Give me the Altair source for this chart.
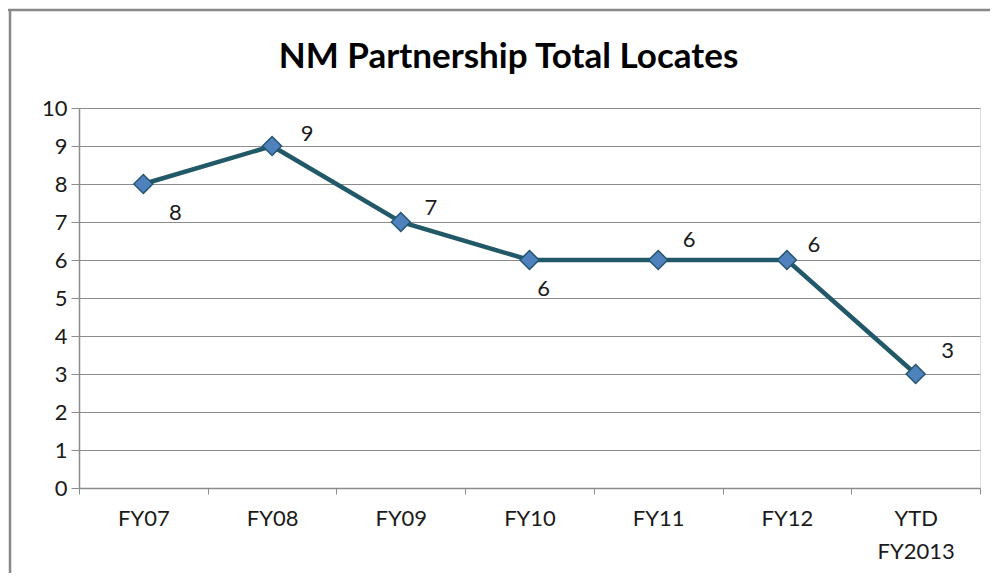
import altair as alt
import pandas as pd

periods = ["FY07", "FY08", "FY09", "FY10", "FY11", "FY12", "YTD FY2013"]
locates = [8, 9, 7, 6, 6, 6, 3]

df = pd.DataFrame({"period": periods, "locates": locates})

FONT = "Lato"
GRID = "#8c8c8c"
FS = 22

x_enc = alt.X(
    "period:N",
    sort=periods,
    scale=alt.Scale(type="band", paddingInner=0, paddingOuter=0),
    bandPosition=0.5,
    axis=alt.Axis(
        title=None, labelAngle=0, tickBand="extent", tickSize=6,
        tickColor=GRID, domainColor=GRID, domainWidth=1.5, grid=False,
        labelFont=FONT, labelFontSize=FS, labelColor="#1a1a1a",
        labelPadding=14, labelLineHeight=33, labelBaseline="top",
        labelExpr="split(datum.label, ' ')",
    ),
)
y_enc = alt.Y(
    "locates:Q",
    scale=alt.Scale(domain=[0, 10], nice=False),
    axis=alt.Axis(
        title=None, values=list(range(11)), grid=True, gridColor=GRID,
        gridWidth=1, tickSize=8, tickColor=GRID, domainColor=GRID,
        domainWidth=1.5, labelFont=FONT, labelFontSize=FS,
        labelColor="#1a1a1a", labelPadding=4,
    ),
)

base = alt.Chart(df).encode(x=x_enc, y=y_enc)

line = base.mark_line(color="#215968", strokeWidth=4.5)
pts = base.mark_point(
    shape="diamond", filled=True, size=360, fill="#4F81BD",
    stroke="#24566f", strokeWidth=1.5, opacity=1,
)

offsets = {
    "FY07": (32, 29),
    "FY08": (35, -12),
    "FY09": (30, -14),
    "FY10": (14, 29),
    "FY11": (31, -20),
    "FY12": (27, -15),
    "YTD FY2013": (32, -23),
}
labels = [
    base.transform_filter(alt.datum.period == p)
    .mark_text(font=FONT, fontSize=FS, color="#1a1a1a", dx=dx, dy=dy)
    .encode(text="locates:Q")
    for p, (dx, dy) in offsets.items()
]

frame_data = alt.Data(values=[{"a": 1}])
top_border = alt.Chart(frame_data).mark_rule(color="#888888", strokeWidth=2.5).encode(
    x=alt.value(-71), x2=alt.value(911), y=alt.value(-98)
)
left_border = alt.Chart(frame_data).mark_rule(color="#888888", strokeWidth=2.5).encode(
    x=alt.value(-69), y=alt.value(-99), y2=alt.value(477)
)

chart = (
    alt.layer(line, pts, *labels, top_border, left_border)
    .properties(
        width=901,
        height=380,
        padding={"left": 71, "top": 100, "right": 10, "bottom": 85},
        autosize=alt.AutoSizeParams(type="none"),
        title=alt.TitleParams(
            "NM Partnership Total Locates", font=FONT, fontSize=35,
            fontWeight="bold", color="#000000", anchor="middle", dx=-21,
            baseline="alphabetic", offset=-95,
        ),
    )
    .configure_view(stroke=None)
    .configure(background="white")
)

chart.save("out.html", embed_options={"renderer": "svg", "actions": False})
